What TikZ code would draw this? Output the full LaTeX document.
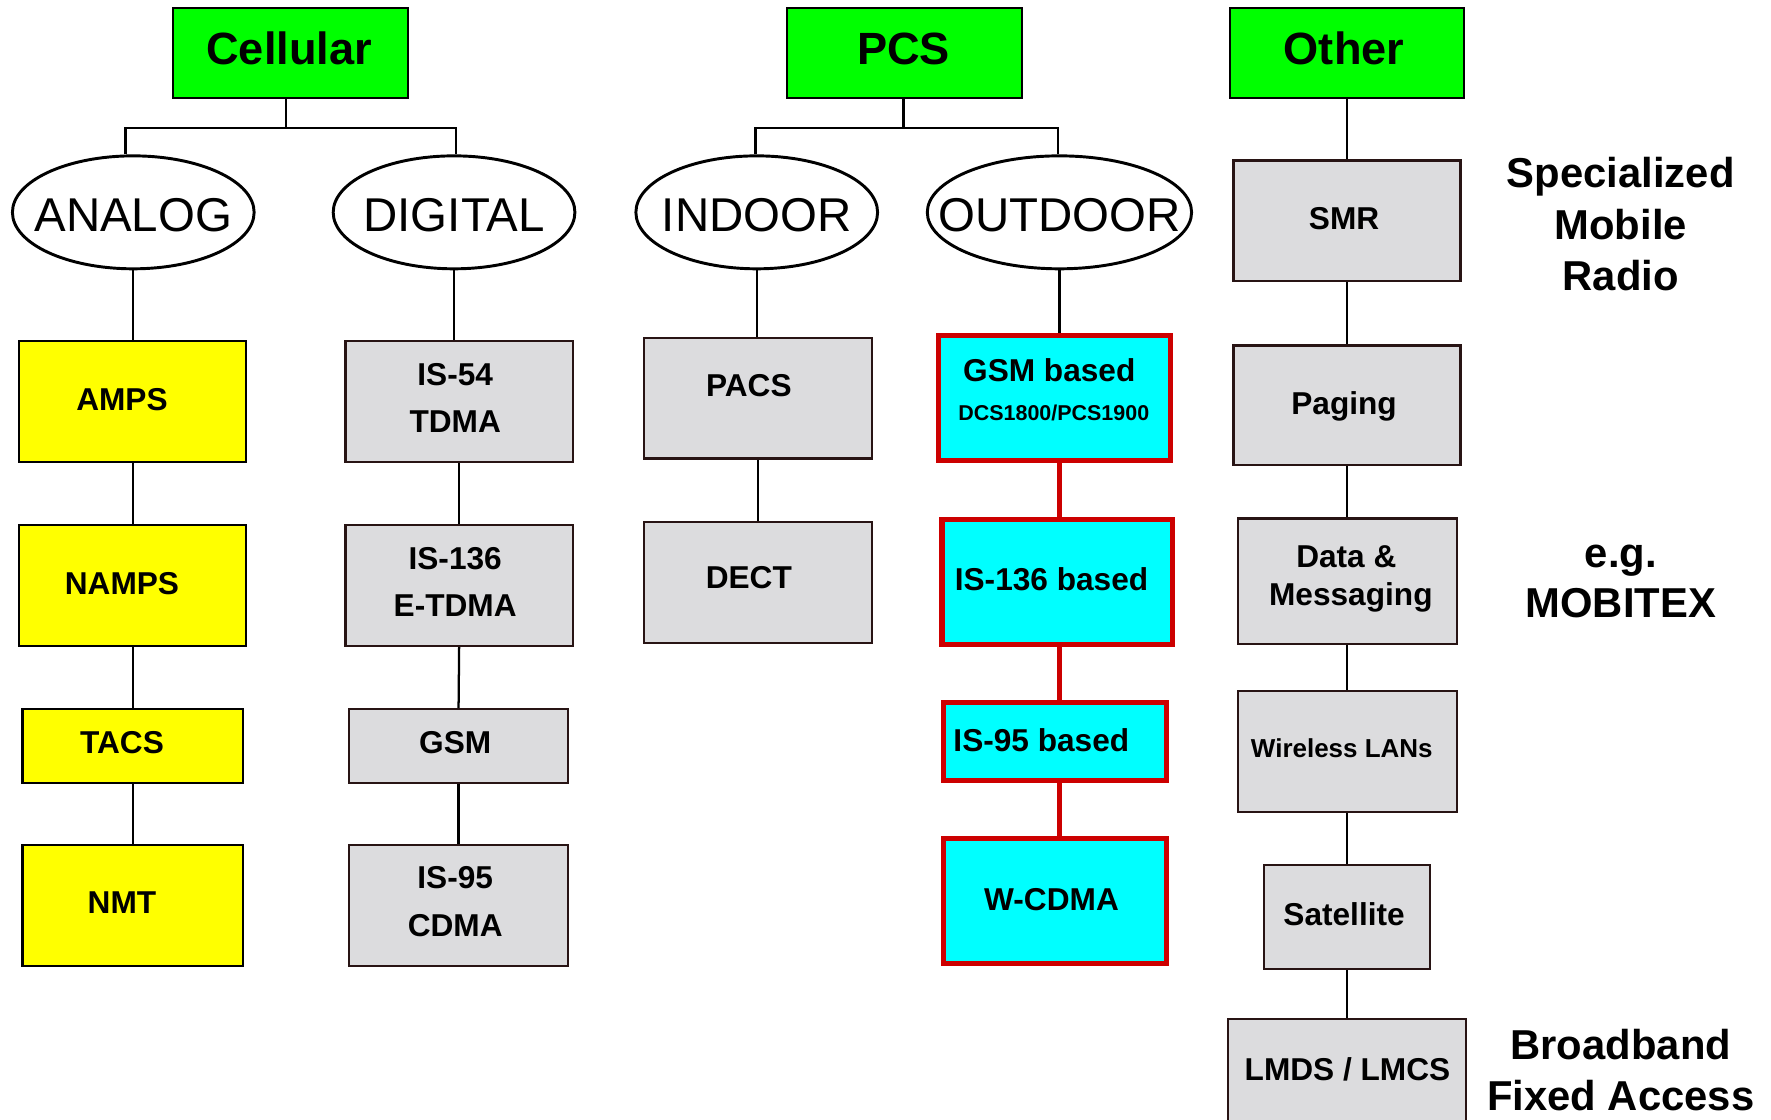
\documentclass[tikz,border=0pt]{standalone}
\usepackage{fontspec}
\setmainfont{Liberation Sans}
\usetikzlibrary{shapes.geometric}
\definecolor{greenc}{RGB}{0,255,0}
\definecolor{yellowc}{RGB}{255,255,0}
\definecolor{cyanc}{RGB}{0,255,255}
\definecolor{redc}{RGB}{204,0,0}
\definecolor{grayc}{RGB}{220,220,222}
\definecolor{borderc}{RGB}{40,20,20}
\newcommand\mkbox[6]{%
  \pgfmathsetmacro\mkW{#5-#3}\pgfmathsetmacro\mkH{#6-#4}%
  \pgfmathsetmacro\mkX{(#3+#5)/2}\pgfmathsetmacro\mkY{(#4+#6)/2}%
  \node[#2,minimum width=\mkW pt,minimum height=\mkH pt,inner sep=0pt] (#1) at (\mkX,\mkY) {};}
\tikzset{
  conn/.style={line width=2pt, draw=black},
  rconn/.style={line width=4.5pt, draw=redc},
  topbox/.style={rectangle, draw=black, line width=2pt, fill=greenc},
  ybox/.style={rectangle, draw=black, line width=2pt, fill=yellowc},
  gbox/.style={rectangle, draw=borderc, line width=2pt, fill=grayc},
  cbox/.style={rectangle, draw=redc, line width=4.5pt, fill=cyanc},
  ell/.style={ellipse, draw=black, line width=2.6pt, fill=white, inner sep=0pt, minimum height=100pt},
  tlab/.style={font=\bfseries\fontsize{40}{48}\selectfont, anchor=base, inner sep=0pt},
  elab/.style={font=\fontsize{42}{50}\selectfont, anchor=base, inner sep=0pt},
  blab/.style={font=\bfseries\fontsize{28}{34}\selectfont, anchor=base, inner sep=0pt},
  smlab/.style={font=\bfseries\fontsize{23}{28}\selectfont, anchor=base, inner sep=0pt},
  tinylab/.style={font=\bfseries\fontsize{19}{23}\selectfont, anchor=base, inner sep=0pt},
  slab/.style={font=\bfseries\fontsize{37}{45}\selectfont, anchor=base, inner sep=0pt},
}
\begin{document}
\begin{tikzpicture}[x=1pt,y=-1pt]
\useasboundingbox (0,0) rectangle (1568,991);
\clip (0,0) rectangle (1568,991);
\fill[white] (0,0) rectangle (1568,991);

% top boxes
\mkbox{cellular}{topbox}{153}{7}{361}{87}
\mkbox{pcs}{topbox}{697}{7}{905}{87}
\mkbox{other}{topbox}{1089}{7}{1296}{87}

% ellipses
\node[ell, minimum width=214pt] (analog) at (118,188) {};
\node[ell, minimum width=214pt] (digital) at (402,188) {};
\node[ell, minimum width=214pt] (indoor) at (670,188) {};
\node[ell, minimum width=234pt] (outdoor) at (938,188) {};

% analog column
\mkbox{amps}{ybox}{17}{302}{218}{409}
\mkbox{namps}{ybox}{17}{465}{218}{572}
\mkbox{tacs}{ybox}{20}{628}{215}{693}
\mkbox{nmt}{ybox}{20}{748}{215}{855}
% digital column
\mkbox{is54}{gbox}{306}{302}{507}{409}
\mkbox{is136}{gbox}{306}{465}{507}{572}
\mkbox{gsm}{gbox}{309}{628}{503}{693}
\mkbox{is95}{gbox}{309}{748}{503}{855}
% indoor column
\mkbox{pacs}{gbox}{570}{299}{772}{406}
\mkbox{dect}{gbox}{570}{462}{772}{569}
% outdoor column
\mkbox{gsmb}{cbox}{831}{297}{1036}{408}
\mkbox{is136b}{cbox}{834}{460}{1038}{571}
\mkbox{is95b}{cbox}{835}{622}{1033}{691}
\mkbox{wcdma}{cbox}{835}{742}{1033}{853}
% other column
\mkbox{smr}{gbox}{1092}{142}{1293}{249}
\mkbox{paging}{gbox}{1092}{306}{1293}{412}
\mkbox{data}{gbox}{1096}{459}{1290}{570}
\mkbox{wlan}{gbox}{1096}{612}{1290}{719}
\mkbox{sat}{gbox}{1119}{766}{1266}{858}
\mkbox{lmds}{gbox}{1087}{902}{1298}{1000}

% connectors
\coordinate (cj) at (253,113);
\draw[conn] (cellular.south -| cj) -- (cj);
\draw[conn] ([xshift=-7pt]analog.north) |- (cj) -| ([xshift=2pt]digital.north);
\coordinate (pj) at (800,113);
\draw[conn] (pcs.south -| pj) -- (pj);
\draw[conn] ([xshift=-1pt]indoor.north) |- (pj) -| ([xshift=-1pt]outdoor.north);
\draw[conn] (other.south) -- (other.south |- smr.north);

\draw[conn] (analog.south) -- (analog.south |- amps.north);
\draw[conn] (amps.south) -- (namps.north);
\draw[conn] (namps.south) -- (tacs.north);
\draw[conn] (tacs.south) -- (nmt.north);

\draw[conn] (digital.south) -- (digital.south |- is54.north);
\draw[conn] (is54.south) -- (is136.north);
\draw[conn] (is136.south) -- (gsm.north);
\draw[conn] (gsm.south) -- (is95.north);

\draw[conn] (indoor.south) -- (indoor.south |- pacs.north);
\draw[conn] (pacs.south) -- (dect.north);

\draw[conn] (outdoor.south) -- (outdoor.south |- gsmb.north);
\draw[rconn] (gsmb.south -| outdoor.south) -- (outdoor.south |- is136b.north);
\draw[rconn] (is136b.south -| outdoor.south) -- (outdoor.south |- is95b.north);
\draw[rconn] (is95b.south -| outdoor.south) -- (outdoor.south |- wcdma.north);

\draw[conn] (smr.south) -- (paging.north);
\draw[conn] (paging.south) -- (paging.south |- data.north);
\draw[conn] (data.south -| paging.south) -- (paging.south |- wlan.north);
\draw[conn] (wlan.south -| paging.south) -- (paging.south |- sat.north);
\draw[conn] (sat.south -| paging.south) -- (paging.south |- lmds.north);

% labels
\node[tlab] (t-cell) at (256,57) {Cellular};
\node[tlab] (t-pcs) at (800,57) {PCS};
\node[tlab] (t-other) at (1190,57) {Other};

\node[elab] (t-analog) at (118,205) {ANALOG};
\node[elab] (t-digital) at (402,205) {DIGITAL};
\node[elab] (t-indoor) at (670,205) {INDOOR};
\node[elab] (t-outdoor) at (938,205) {OUTDOOR};

\node[blab] (t-amps) at (108,363) {AMPS};
\node[blab] (t-namps) at (108,526) {NAMPS};
\node[blab] (t-tacs) at (108,667) {TACS};
\node[blab] (t-nmt) at (108,809) {NMT};

\node[blab] (t-is54a) at (403,341) {IS-54};
\node[blab] (t-is54b) at (403,383) {TDMA};
\node[blab] (t-is136a) at (403,504) {IS-136};
\node[blab] (t-is136b) at (403,546) {E-TDMA};
\node[blab] (t-gsm) at (403,667) {GSM};
\node[blab] (t-is95a) at (403,787) {IS-95};
\node[blab] (t-is95b) at (403,829) {CDMA};

\node[blab] (t-pacs) at (663,351) {PACS};
\node[blab] (t-dect) at (663,521) {DECT};

\node[blab] (t-gsmb) at (929,338) {GSM based};
\node[tinylab] (t-dcs) at (933,372) {DCS1800/PCS1900};
\node[blab] (t-is136bb) at (931,523) {IS-136 based};
\node[blab] (t-is95bb) at (922,665) {IS-95 based};
\node[blab] (t-wcdma) at (931,806) {W-CDMA};

\node[blab] (t-smr) at (1190,203) {SMR};
\node[blab] (t-paging) at (1190,367) {Paging};
\node[blab] (t-data1) at (1192,502) {Data \&};
\node[blab] (t-data2) at (1196,536) {Messaging};
\node[smlab] (t-wlan) at (1188,671) {Wireless LANs};
\node[blab] (t-sat) at (1190,819) {Satellite};
\node[blab] (t-lmds) at (1193,957) {LMDS / LMCS};

\node[slab] (s1) at (1435,166) {Specialized};
\node[slab] (s2) at (1435,212) {Mobile};
\node[slab] (s3) at (1435,257) {Radio};
\node[slab] (s4) at (1435,502) {e.g.};
\node[slab] (s5) at (1435,547) {MOBITEX};
\node[slab] (s6) at (1435,938) {Broadband};
\node[slab] (s7) at (1435,983) {Fixed Access};
\end{tikzpicture}
\end{document}
